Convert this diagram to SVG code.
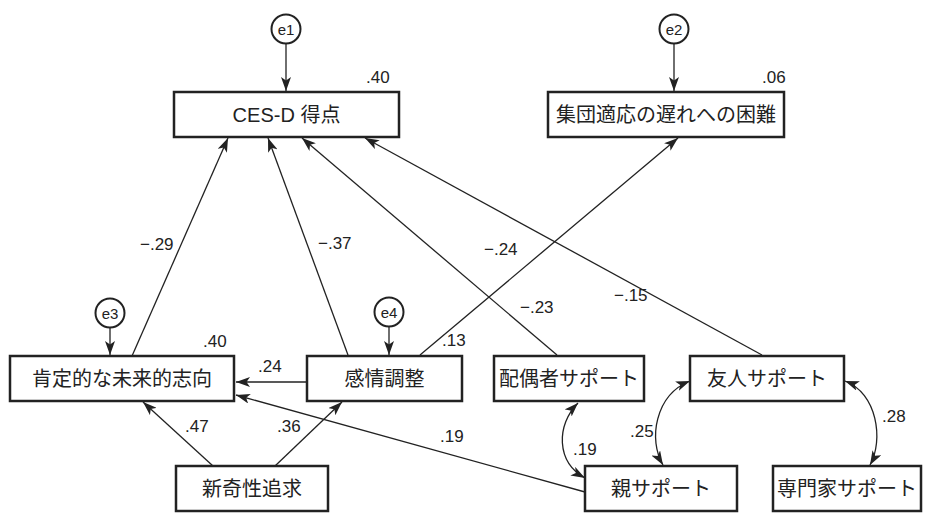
<svg xmlns="http://www.w3.org/2000/svg" width="925" height="514" viewBox="0 0 925 514">
<defs>
<marker id="ah" viewBox="0 0 14 10" refX="14" refY="5" markerWidth="14" markerHeight="10" markerUnits="userSpaceOnUse" orient="auto-start-reverse">
<path d="M0,0 L14,5 L0,10 L3.5,5 Z" fill="#222"/>
</marker>
</defs>
<style>
.box{fill:#fff;stroke:#222;stroke-width:2.5}
.err{fill:#fff;stroke:#222;stroke-width:2}
.lbl{font-family:"Liberation Sans","Noto Sans CJK JP",sans-serif;font-size:20px;fill:#222;text-anchor:middle}
.el{font-family:"Liberation Sans",sans-serif;font-size:15px;fill:#222;text-anchor:middle}
.num{font-family:"Liberation Sans",sans-serif;font-size:17px;fill:#222}
.ln{fill:none;stroke:#222;stroke-width:1.3;marker-end:url(#ah)}
.dbl{fill:none;stroke:#222;stroke-width:1.3;marker-start:url(#ah);marker-end:url(#ah)}
</style>
<rect width="925" height="514" fill="#fff"/>
<g id="connectors">
<line class="ln" x1="132" y1="356" x2="228" y2="138"/>
<line class="ln" x1="348" y1="355" x2="268" y2="138"/>
<line class="ln" x1="557" y1="355" x2="302" y2="138"/>
<line class="ln" x1="762" y1="355" x2="365" y2="138"/>
<line class="ln" x1="420" y1="355" x2="678" y2="138"/>
<line class="ln" x1="307" y1="382" x2="236" y2="382"/>
<line class="ln" x1="585" y1="492" x2="236" y2="395"/>
<line class="ln" x1="213" y1="466" x2="143" y2="402"/>
<line class="ln" x1="275" y1="466" x2="342" y2="402"/>
<line class="ln" x1="286" y1="44" x2="286" y2="91"/>
<line class="ln" x1="674" y1="44" x2="674" y2="91"/>
<line class="ln" x1="110" y1="328" x2="110" y2="355"/>
<line class="ln" x1="389" y1="327" x2="389" y2="355"/>
<path class="dbl" d="M578,403 C556,425 556,462 585,478"/>
<path class="dbl" d="M690,381 C655,395 648,440 663,465"/>
<path class="dbl" d="M845,381 C877,393 884,440 870,465"/>
</g>
<g id="labels">
<text class="num" x="140" y="250">−.29</text>
<text class="num" x="318" y="249">−.37</text>
<text class="num" x="484" y="255">−.24</text>
<text class="num" x="520" y="313">−.23</text>
<text class="num" x="614" y="301">−.15</text>
<text class="num" x="366" y="83">.40</text>
<text class="num" x="762" y="83">.06</text>
<text class="num" x="203" y="347">.40</text>
<text class="num" x="442" y="346">.13</text>
<text class="num" x="258" y="372">.24</text>
<text class="num" x="185" y="432">.47</text>
<text class="num" x="277" y="432">.36</text>
<text class="num" x="440" y="442">.19</text>
<text class="num" x="573" y="455">.19</text>
<text class="num" x="630" y="437">.25</text>
<text class="num" x="882" y="422">.28</text>
</g>
<g id="e1"><circle class="err" cx="286" cy="29" r="14.5"/><text class="el" x="286" y="34.5">e1</text></g>
<g id="e2"><circle class="err" cx="674" cy="29" r="14.5"/><text class="el" x="674" y="34.5">e2</text></g>
<g id="e3"><circle class="err" cx="110" cy="313" r="14.5"/><text class="el" x="110" y="318.5">e3</text></g>
<g id="e4"><circle class="err" cx="389" cy="312" r="14.5"/><text class="el" x="389" y="317.5">e4</text></g>
<g id="cesd"><rect class="box" x="174" y="92" width="225" height="45"/><text class="lbl" x="286.5" y="122">CES-D 得点</text></g>
<g id="shudan"><rect class="box" x="548" y="92" width="236" height="45"/><text class="lbl" x="666" y="122">集団適応の遅れへの困難</text></g>
<g id="kotei"><rect class="box" x="10" y="356" width="224" height="45"/><text class="lbl" x="122" y="386">肯定的な未来的志向</text></g>
<g id="kanjo"><rect class="box" x="307" y="356" width="155" height="45"/><text class="lbl" x="384.5" y="386">感情調整</text></g>
<g id="haigusha"><rect class="box" x="494" y="356" width="150" height="45"/><text class="lbl" x="569" y="386">配偶者サポート</text></g>
<g id="yujin"><rect class="box" x="690" y="356" width="154" height="45"/><text class="lbl" x="767" y="386">友人サポート</text></g>
<g id="shinki"><rect class="box" x="176" y="466" width="152" height="45"/><text class="lbl" x="252" y="496">新奇性追求</text></g>
<g id="oya"><rect class="box" x="585" y="466" width="152" height="45"/><text class="lbl" x="661" y="496">親サポート</text></g>
<g id="senmon"><rect class="box" x="773" y="466" width="148" height="45"/><text class="lbl" x="847" y="496">専門家サポート</text></g>
</svg>
